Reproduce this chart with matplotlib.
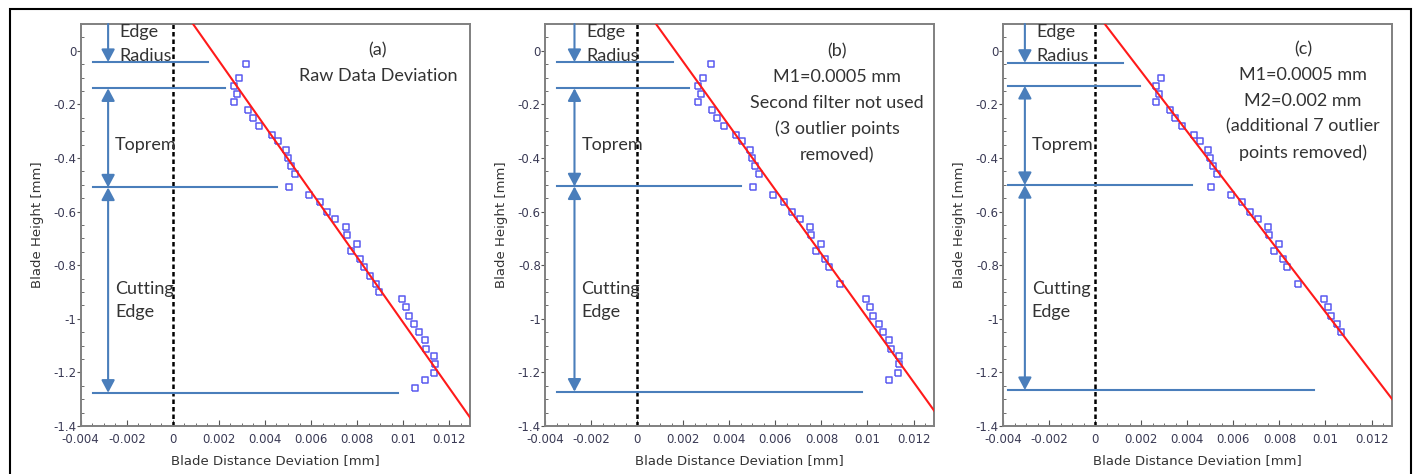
import matplotlib
matplotlib.use("Agg")
from matplotlib import pyplot as plt
from matplotlib.patches import Rectangle
from matplotlib.ticker import MultipleLocator, FuncFormatter
import numpy as np

plt.rcParams['axes.unicode_minus'] = False

# measured points (raw data)
x_raw = [0.00319, 0.00286, 0.00265, 0.00278, 0.00265, 0.00326, 0.00348, 0.00375,
         0.00429, 0.00457, 0.00490, 0.00498, 0.00512, 0.00529, 0.00505, 0.00590,
         0.00639, 0.00671, 0.00706, 0.00750, 0.00755, 0.00799, 0.00775, 0.00814,
         0.00831, 0.00856, 0.00880, 0.00895, 0.00993, 0.01011, 0.01024, 0.01048,
         0.01068, 0.01095, 0.01101, 0.01135, 0.01138, 0.01132, 0.01095, 0.01050]
y_raw = [-0.050, -0.103, -0.131, -0.161, -0.192, -0.222, -0.251, -0.280,
         -0.313, -0.337, -0.370, -0.401, -0.429, -0.460, -0.510, -0.537,
         -0.566, -0.600, -0.627, -0.659, -0.686, -0.720, -0.747, -0.777,
         -0.808, -0.842, -0.870, -0.900, -0.928, -0.956, -0.988, -1.018,
         -1.049, -1.080, -1.111, -1.140, -1.169, -1.202, -1.228, -1.260]

# outliers removed by the filters
removed_m1 = [25, 27, 39]
removed_m2 = [0, 33, 34, 35, 36, 37, 38]

# fitted lines (slope, intercept)
fit_a = (-122.1, 0.207)
fit_b = (-119.5, 0.198)
fit_c = (-112.2, 0.147)

panel_texts = ["(a)\nRaw Data Deviation",
               "(b)\nM1=0.0005 mm\nSecond filter not used\n(3 outlier points\nremoved)",
               "(c)\nM1=0.0005 mm\nM2=0.002 mm\n(additional 7 outlier\npoints removed)"]
panel_text_y = [-0.047, -0.196, -0.188]

# section boundaries: heights and right ends of the guide lines
bounds_a = [-0.042, -0.140, -0.510, -1.276]
ends_a = [0.00154, 0.00226, 0.00452, 0.00978]
bounds_b = [-0.042, -0.140, -0.506, -1.272]
ends_b = [0.00155, 0.00227, 0.00449, 0.00977]
bounds_c = [-0.045, -0.131, -0.501, -1.266]
ends_c = [0.00123, 0.00194, 0.00420, 0.00950]

keep_a = list(range(len(x_raw)))
keep_b = [i for i in keep_a if i not in removed_m1]
keep_c = [i for i in keep_b if i not in removed_m2]

blue = '#4a7ebb'
txt = '#333333'
fig = plt.figure(figsize=(14.15, 4.74), dpi=100)

# outer frame
fig.patches.append(Rectangle((10/1415, -0.05), 1401/1415, 1.05 - 9/474, transform=fig.transFigure,
                             fill=False, ec='black', lw=1.5))

lefts = [80.7/1415, 545/1415, 1003/1415]
sq = [(-0.37, -0.5), (0.37, -0.5), (0.37, 0.5), (-0.37, 0.5), (-0.37, -0.5)]

panels = [(keep_a, fit_a, bounds_a, ends_a, -0.00346, -0.00281, 0.0089),
          (keep_b, fit_b, bounds_b, ends_b, -0.00347, -0.00272, 0.00868),
          (keep_c, fit_c, bounds_c, ends_c, -0.00377, -0.00305, 0.00902)]

for k, (keep, fit, bounds, ends, x0, xa, xt) in enumerate(panels):
    ax = fig.add_axes([lefts[k], 0.1013, 0.2751, 0.8481])
    ax.set_xlim(-0.004, 0.0129)
    ax.set_ylim(-1.4, 0.1)

    xs = np.array([x_raw[i] for i in keep])
    ys = np.array([y_raw[i] for i in keep])
    ax.plot(xs, ys, linestyle='none', marker=sq, markersize=5, mfc='none',
            mec='#5a5af0', mew=1.1, zorder=3)

    xl = np.array([-0.004, 0.014])
    ax.plot(xl, fit[0]*xl + fit[1], color='#ff1a1a', lw=1.5, zorder=4)

    ax.axvline(0, color='black', ls=(0, (1.8, 1.2)), lw=1.8, zorder=2)

    for yb, xe in zip(bounds, ends):
        ax.plot([x0, xe], [yb, yb], color=blue, lw=1.5)

    ap = dict(color=blue, lw=1.5, shrinkA=0, shrinkB=0, mutation_scale=10)
    one = '-|>,head_length=0.75,head_width=0.4'
    two = '<|-|>,head_length=0.75,head_width=0.4'
    ax.annotate('', xy=(xa, bounds[0]), xytext=(xa, 0.1), arrowprops=dict(arrowstyle=one, **ap))
    ax.annotate('', xy=(xa, bounds[2]), xytext=(xa, bounds[1]), arrowprops=dict(arrowstyle=two, **ap))
    ax.annotate('', xy=(xa, bounds[3]), xytext=(xa, bounds[2]), arrowprops=dict(arrowstyle=two, **ap))

    tx = xa + 0.00050
    ax.text(tx, 0.071, "Edge", fontsize=13, family='Lato', color=txt, va='center')
    ax.text(tx, -0.019, "Radius", fontsize=13, family='Lato', color=txt, va='center')
    ax.text(tx - 0.0002, -0.351, "Toprem", fontsize=13, family='Lato', color=txt, va='center')
    ax.text(tx - 0.0002, -0.932, "Cutting\nEdge", fontsize=13, family='Lato', color=txt,
            va='center', linespacing=1.48)

    ax.text(xt, panel_text_y[k], panel_texts[k], fontsize=13, family='Lato', color=txt,
            ha='center', va='center', linespacing=1.73)

    ax.xaxis.set_major_locator(MultipleLocator(0.002))
    ax.xaxis.set_minor_locator(MultipleLocator(0.0005))
    ax.yaxis.set_major_locator(MultipleLocator(0.2))
    ax.yaxis.set_minor_locator(MultipleLocator(0.05))
    fmt = FuncFormatter(lambda v, p: '0' if abs(v) < 1e-9 else f'{v:g}')
    ax.xaxis.set_major_formatter(fmt)
    ax.yaxis.set_major_formatter(fmt)
    ax.tick_params(axis='x', which='both', direction='in', labelsize=8.5, labelcolor='#3a3a55',
                   color='#555555', pad=5)
    ax.tick_params(axis='x', which='major', length=4)
    ax.tick_params(axis='x', which='minor', length=2.5)
    ax.tick_params(axis='y', which='major', direction='out', length=3, labelsize=8.5,
                   labelcolor='#3a3a55', color='#555555', pad=0)
    ax.tick_params(axis='y', which='minor', direction='in', length=2, color='#555555')
    for s in ax.spines.values():
        s.set_color('#808080')
        s.set_linewidth(1.4)

    ax.set_xlabel("Blade Distance Deviation [mm]", fontsize=9.5, color=txt, labelpad=6)
    ax.set_ylabel("Blade Height [mm]", fontsize=9.5, color=txt, labelpad=7)

fig.savefig("out.png", dpi=100)
